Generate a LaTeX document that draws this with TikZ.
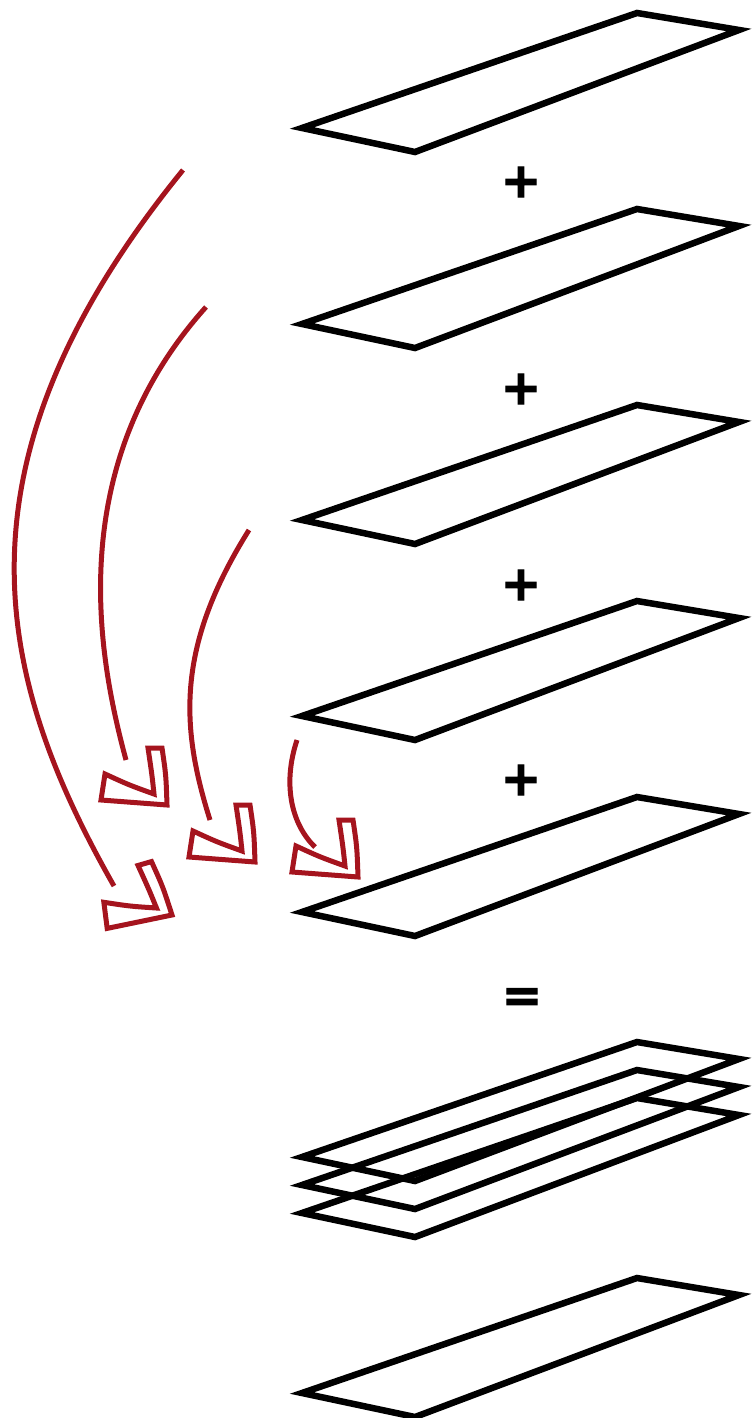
\documentclass[tikz,border=0pt]{standalone}
\usepackage{fontspec}
\newfontfamily\opfont{DejaVu Sans}[BoldFeatures={FakeBold=2.5}]
\newcommand\opsymbol{\opfont\bfseries\fontsize{48}{48}\selectfont}
\definecolor{arrowred}{RGB}{165,20,30}
\begin{document}
\begin{tikzpicture}[x=1pt,y=-1pt,
  slabline/.style={line width=6.5pt, draw=black, line join=miter},
  redcurve/.style={line width=5pt, draw=arrowred},
  headline/.style={line width=5pt, draw=arrowred, fill=white, line join=miter},
  opsign/.style={inner sep=0pt, font=\opsymbol},
  slab/.pic={\draw[slabline] (0,0) -- (335,-115) -- (437,-98) -- (113,24) -- cycle;},
  barbhead/.pic={\draw[headline] (0,0) -- (-66,-5) -- (-62,-31)
      .. controls (-38,-20) .. (-13,-11)
      .. controls (-15,-30) .. (-19,-57) -- (-5,-57)
      .. controls (-1,-30) .. (0,0) -- cycle;}
]
\useasboundingbox (0,0) rectangle (753,1418);

% slabs (left vertices)
\coordinate (s1) at (302,128);
\coordinate (s2) at (302,324);
\coordinate (s3) at (302,520);
\coordinate (s4) at (302,716);
\coordinate (s5) at (302,912);
\coordinate (t1) at (302,1157);
\coordinate (t2) at (302,1185);
\coordinate (t3) at (302,1213);
\coordinate (r)  at (302,1393);
\foreach \c in {s1,s2,s3,s4,s5,t1,t2,t3,r}{\pic at (\c) {slab};}

% operators
\node[opsign] (p1) at (521,182) {+};
\node[opsign] (p2) at (521,389) {+};
\node[opsign] (p3) at (521,585) {+};
\node[opsign] (p4) at (521,780) {+};
\node[opsign] (eq) at (522,1000) {=};

% red curved arrows
\coordinate (a1s) at (183,170);
\coordinate (a1e) at (114,886);
\coordinate (a2s) at (206,307);
\coordinate (a2e) at (126,760);
\coordinate (a3s) at (249,530);
\coordinate (a3e) at (210,820);
\coordinate (a4s) at (297,740);
\coordinate (a4e) at (315,847);

\draw[redcurve] (a1s) .. controls (-58,466) and (-3,680) .. (a1e);
\draw[redcurve] (a2s) .. controls (58.6,471) and (101,667) .. (a2e);
\draw[redcurve] (a3s) .. controls (175,648) and (181,728) .. (a3e);
\draw[redcurve] (a4s) .. controls (282,785) and (292,825) .. (a4e);

\coordinate (h1) at (172,915);
\coordinate (h2) at (167,805);
\coordinate (h3) at (255,862);
\coordinate (h4) at (358,877);
\pic[rotate=16] at (h1) {barbhead};
\pic at (h2) {barbhead};
\pic at (h3) {barbhead};
\pic at (h4) {barbhead};
\end{tikzpicture}
\end{document}
